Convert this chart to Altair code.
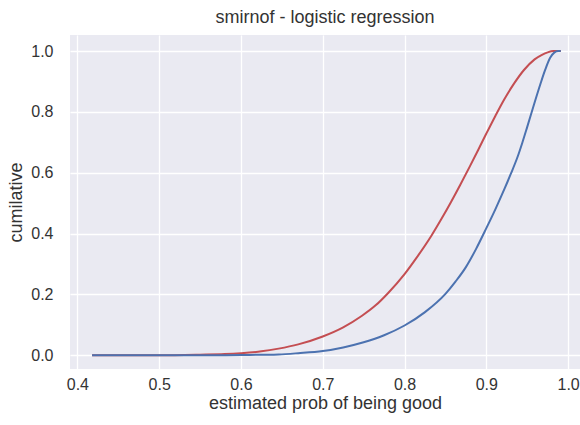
import altair as alt
import pandas as pd

# Red series (estimated prob, cumulative)
red_x = [0.418, 0.50, 0.55, 0.58, 0.60, 0.625, 0.646, 0.67, 0.70, 0.725, 0.748, 0.765, 0.78, 0.80,
         0.815, 0.833, 0.845, 0.857, 0.868, 0.880, 0.890, 0.90, 0.911, 0.922, 0.934, 0.946,
         0.959, 0.968, 0.975, 0.982, 0.991]
red_y = [0.0, 0.0, 0.002, 0.004, 0.007, 0.013, 0.022, 0.036, 0.062, 0.092, 0.13, 0.165, 0.205, 0.267,
         0.322, 0.394, 0.448, 0.505, 0.560, 0.622, 0.675, 0.729, 0.787, 0.842, 0.894, 0.938,
         0.973, 0.988, 0.996, 1.0, 1.0]

# Blue series
blue_x = [0.418, 0.55, 0.60, 0.646, 0.67, 0.70, 0.725, 0.75, 0.775, 0.80, 0.825, 0.85, 0.8625,
          0.875, 0.8875, 0.90, 0.911, 0.922, 0.930, 0.938, 0.944, 0.950, 0.959, 0.966, 0.972,
          0.978, 0.983, 0.988, 0.991]
blue_y = [0.0, 0.0, 0.001, 0.003, 0.007, 0.014, 0.026, 0.043, 0.066, 0.098, 0.142, 0.202, 0.243,
          0.29, 0.35, 0.418, 0.48, 0.546, 0.597, 0.651, 0.699, 0.751, 0.831, 0.891, 0.939,
          0.978, 0.995, 1.0, 1.0]

x_ticks = [0.4, 0.5, 0.6, 0.7, 0.8, 0.9, 1.0]
y_ticks = [0.0, 0.2, 0.4, 0.6, 0.8, 1.0]

df = pd.concat([
    pd.DataFrame({"x": red_x, "y": red_y, "series": "red", "order": range(len(red_x))}),
    pd.DataFrame({"x": blue_x, "y": blue_y, "series": "blue", "order": range(len(blue_x))}),
])

font = "Liberation Sans"
tc = "#333333"

chart = alt.Chart(df).mark_line(strokeWidth=2, clip=True, interpolate="monotone").encode(
    x=alt.X("x:Q",
            scale=alt.Scale(domain=[0.391, 1.0145], nice=False, zero=False),
            axis=alt.Axis(values=x_ticks, format=".1f", title="estimated prob of being good",
                          grid=True, gridColor="white", gridWidth=1.3, domain=False, ticks=False,
                          labelFont=font, labelFontSize=16, labelColor=tc, labelPadding=7,
                          labelFlush=False,
                          titleFont=font, titleFontSize=18, titleColor=tc, titleFontWeight="normal",
                          titlePadding=2)),
    y=alt.Y("y:Q",
            scale=alt.Scale(domain=[-0.045, 1.053], nice=False, zero=False),
            axis=alt.Axis(values=y_ticks, format=".1f", title="cumilative",
                          grid=True, gridColor="white", gridWidth=1.3, domain=False, ticks=False,
                          labelFont=font, labelFontSize=16, labelColor=tc, labelPadding=17,
                          labelFlush=False,
                          titleFont=font, titleFontSize=18, titleColor=tc, titleFontWeight="normal",
                          titlePadding=5)),
    color=alt.Color("series:N",
                    scale=alt.Scale(domain=["red", "blue"], range=["#c44e52", "#4c72b0"]),
                    legend=None),
    order="order:Q",
    detail="series:N",
).properties(
    width=510,
    height=334,
    title=alt.TitleParams("smirnof - logistic regression", font=font, fontSize=18,
                          color=tc, fontWeight="normal", anchor="middle", offset=8),
    autosize=alt.AutoSizeParams(type="none"),
    padding={"left": 70, "top": 35, "right": 0, "bottom": 56},
).configure(
    background="white"
).configure_view(
    fill="#eaeaf2", strokeWidth=0
)

chart.save("out.html", embed_options={"renderer": "svg", "actions": False})
